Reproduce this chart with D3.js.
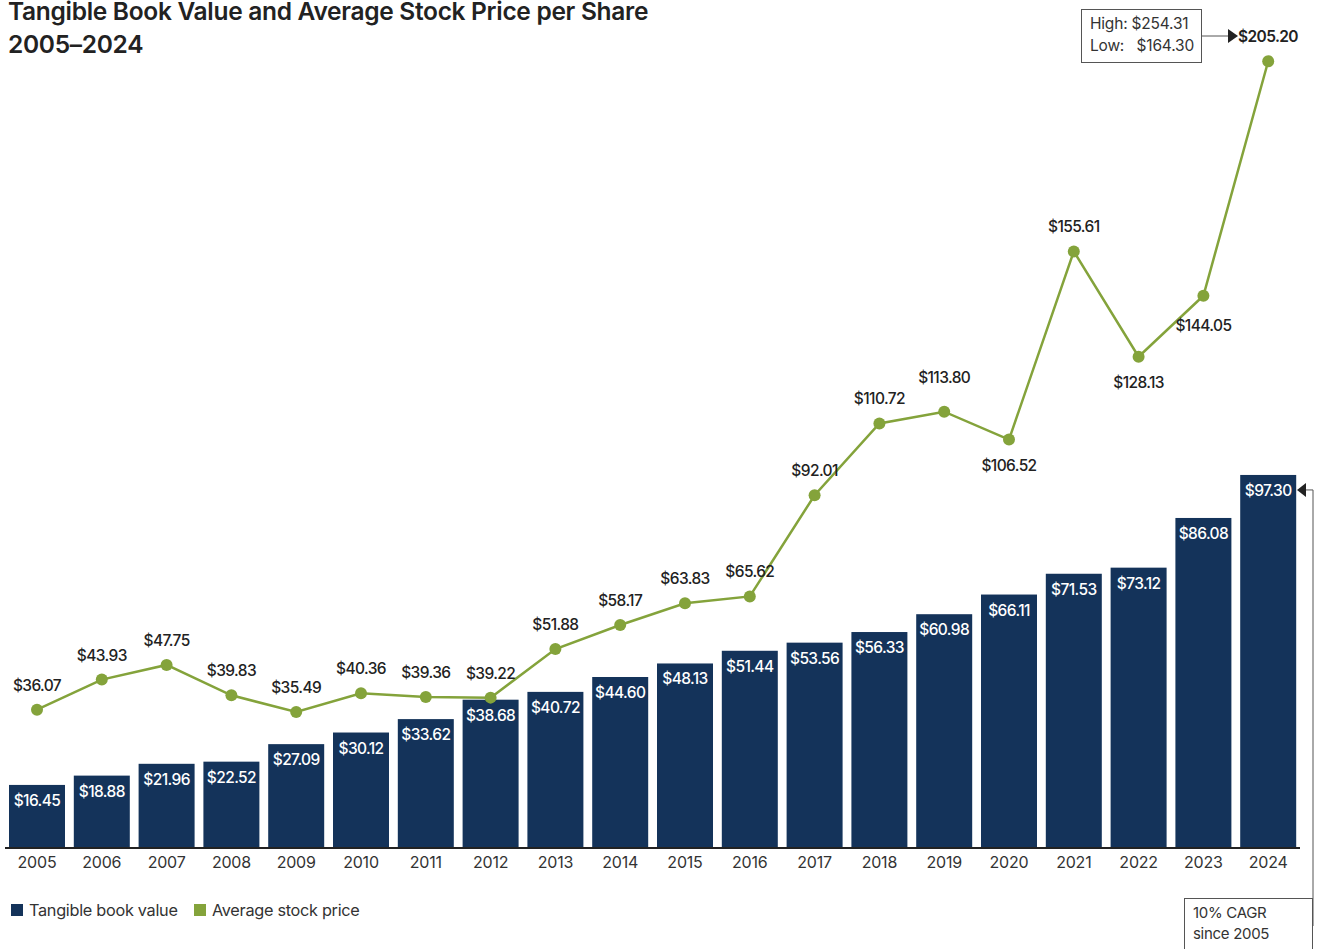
<!DOCTYPE html>
<html>
<head>
<meta charset="utf-8">
<script src="https://cdn.jsdelivr.net/npm/d3@7"></script>
<style>
  body { margin: 0; background: #fff; }
  svg { display: block; font-family: Inter, "Noto Sans", sans-serif; }
</style>
</head>
<body>
<div id="chart"></div>
<script>
const years = ["2005","2006","2007","2008","2009","2010","2011","2012","2013","2014",
               "2015","2016","2017","2018","2019","2020","2021","2022","2023","2024"];
const bookValue = [16.45, 18.88, 21.96, 22.52, 27.09, 30.12, 33.62, 38.68, 40.72, 44.60,
                   48.13, 51.44, 53.56, 56.33, 60.98, 66.11, 71.53, 73.12, 86.08, 97.30];
const stockPrice = [36.07, 43.93, 47.75, 39.83, 35.49, 40.36, 39.36, 39.22, 51.88, 58.17,
                    63.83, 65.62, 92.01, 110.72, 113.80, 106.52, 155.61, 128.13, 144.05, 205.20];
// which price labels sit under the point
const labelBelow = ["2020", "2022", "2023"];
const highLow = ["High: $254.31", "Low:   $164.30"];
const cagrText = ["10% CAGR", "since 2005"];
const legendItems = ["Tangible book value", "Average stock price"];

const width = 1321;
const height = 949;
const navy = "#14335a";
const green = "#84a33b";
const ink = "#222";

const svg = d3.select("#chart")
    .append("svg")
    .attr("width", width)
    .attr("height", height);

const x = d3.scaleBand()
    .domain(years)
    .range([4.6, 1300.6])
    .paddingInner(0.136)
    .paddingOuter(0.068);

const y = d3.scaleLinear()
    .domain([0, 100])
    .range([848, 464.6]);

const cx = d => x(d) + x.bandwidth() / 2;

// title
svg.append("g")
    .selectAll("text")
    .data(["Tangible Book Value and Average Stock Price per Share", "2005–2024"])
    .join("text")
    .attr("x", 8).attr("y", (d, i) => 20 + i * 33)
    .attr("font-size", 24.5).attr("font-weight", 600)
    .attr("letter-spacing", -0.3).attr("fill", ink)
    .text(d => d);

// bars
svg.append("g")
    .selectAll("rect")
    .data(years)
    .join("rect")
    .attr("x", d => x(d))
    .attr("y", (d, i) => y(bookValue[i]))
    .attr("width", x.bandwidth())
    .attr("height", (d, i) => y(0) - y(bookValue[i]))
    .attr("fill", navy);

svg.append("g")
    .selectAll("text")
    .data(years)
    .join("text")
    .attr("x", d => cx(d))
    .attr("y", (d, i) => y(bookValue[i]) + 21)
    .attr("text-anchor", "middle")
    .attr("font-size", 15.5).attr("font-weight", 500)
    .attr("letter-spacing", -0.6)
    .attr("fill", "#fff")
    .text((d, i) => "$" + bookValue[i].toFixed(2));

// x axis
const xAxis = svg.append("g")
    .attr("transform", `translate(0,${y(0)})`)
    .call(d3.axisBottom(x).tickSize(0).tickPadding(9));
xAxis.select(".domain")
    .attr("d", "M5,0H1300")
    .attr("stroke", "#222").attr("stroke-width", 2);
xAxis.selectAll("text")
    .attr("font-family", "Inter, sans-serif")
    .attr("font-size", 16).attr("fill", "#333")
    .attr("letter-spacing", -0.2);

// price line
const line = d3.line()
    .x(d => cx(d))
    .y((d, i) => y(stockPrice[i]));

svg.append("path")
    .datum(years)
    .attr("d", line)
    .attr("fill", "none")
    .attr("stroke", green)
    .attr("stroke-width", 2.5);

svg.append("g")
    .selectAll("circle")
    .data(years)
    .join("circle")
    .attr("cx", d => cx(d))
    .attr("cy", (d, i) => y(stockPrice[i]))
    .attr("r", 6)
    .attr("fill", green);

// a few labels are nudged off the line
const nudge = { "2019": -10, "2023": 4 };
svg.append("g")
    .selectAll("text")
    .data(years.slice(0, -1))
    .join("text")
    .attr("x", d => cx(d))
    .attr("y", (d, i) => y(stockPrice[i]) + (labelBelow.includes(d) ? 31 : -19) + (nudge[d] || 0))
    .attr("text-anchor", "middle")
    .attr("font-size", 15.5).attr("font-weight", 500)
    .attr("letter-spacing", -0.6)
    .attr("fill", ink)
    .text((d, i) => "$" + stockPrice[i].toFixed(2));

// high / low annotation
const last = stockPrice[stockPrice.length - 1];
svg.append("rect")
    .attr("x", 1081.5).attr("y", 9.5)
    .attr("width", 120).attr("height", 53)
    .attr("fill", "#fff").attr("stroke", "#555");
svg.append("g")
    .selectAll("text")
    .data(highLow)
    .join("text")
    .attr("x", 1090)
    .attr("y", (d, i) => 29 + i * 22)
    .attr("font-size", 15.5).attr("fill", "#333")
    .attr("letter-spacing", -0.2)
    .style("white-space", "pre")
    .text(d => d);
svg.append("line")
    .attr("x1", 1202).attr("x2", 1230)
    .attr("y1", 36).attr("y2", 36)
    .attr("stroke", "#555");
svg.append("path")
    .attr("d", "M1228,29L1238,36L1228,43Z")
    .attr("fill", ink);
svg.append("text")
    .attr("x", 1238).attr("y", 42)
    .attr("font-size", 15.5).attr("font-weight", 600)
    .attr("letter-spacing", -0.6).attr("fill", ink)
    .text("$" + last.toFixed(2));

// CAGR annotation
const lastBarY = y(bookValue[bookValue.length - 1]) + 15;
svg.append("path")
    .attr("d", `M1313,926V${lastBarY}H1305`)
    .attr("fill", "none").attr("stroke", "#555");
svg.append("path")
    .attr("d", `M1306,${lastBarY - 7}L1297,${lastBarY}L1306,${lastBarY + 7}Z`)
    .attr("fill", ink);
svg.append("rect")
    .attr("x", 1184.5).attr("y", 898.5)
    .attr("width", 128).attr("height", 60)
    .attr("fill", "#fff").attr("stroke", "#555");
svg.append("g")
    .selectAll("text")
    .data(cagrText)
    .join("text")
    .attr("x", 1193)
    .attr("y", (d, i) => 918 + i * 21)
    .attr("font-size", 15).attr("fill", "#333")
    .attr("letter-spacing", -0.3)
    .text(d => d);

// legend
const legend = svg.append("g")
    .selectAll("g")
    .data(legendItems)
    .join("g")
    .attr("transform", (d, i) => `translate(${i === 0 ? 11 : 194},904)`);
legend.append("rect")
    .attr("width", 12).attr("height", 12)
    .attr("fill", (d, i) => i === 0 ? navy : green);
legend.append("text")
    .attr("x", 18).attr("y", 11.5)
    .attr("font-size", 16.3).attr("fill", "#333")
    .attr("letter-spacing", -0.3)
    .text(d => d);
</script>
</body>
</html>
